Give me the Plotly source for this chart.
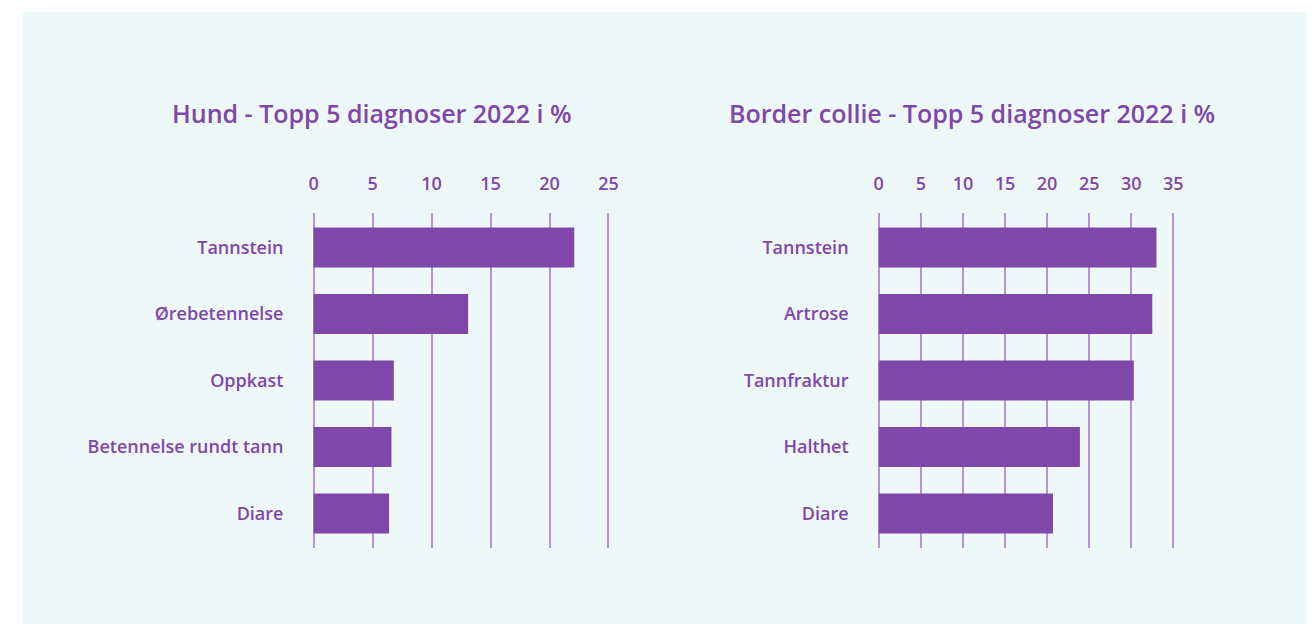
import plotly.graph_objects as go

# data
hund_diag = ["Tannstein", "Ørebetennelse", "Oppkast", "Betennelse rundt tann", "Diare"]
hund_pct = [22.1, 13.1, 6.8, 6.6, 6.4]

bc_diag = ["Tannstein", "Artrose", "Tannfraktur", "Halthet", "Diare"]
bc_pct = [33.0, 32.5, 30.3, 23.9, 20.7]

hund_ticks = [0, 5, 10, 15, 20, 25]
bc_ticks = [0, 5, 10, 15, 20, 25, 30, 35]

W, H = 1316, 624
purple = "#8047ab"
grid = "#b892d9"
bg = "#eff8f9"
font = "Open Sans"

fig = go.Figure()
fig.add_trace(go.Bar(x=hund_pct, y=hund_diag, orientation="h", marker_color=purple,
                     marker_line_width=0, width=0.6, xaxis="x", yaxis="y"))
fig.add_trace(go.Bar(x=bc_pct, y=bc_diag, orientation="h", marker_color=purple,
                     marker_line_width=0, width=0.6, xaxis="x2", yaxis="y2"))

y_top = 1 - 213 / H
y_bot = 1 - 548 / H

# range padded a little so the end gridlines (0 and max) get drawn
def xax(dom, ticks, pad):
    return dict(domain=dom, side="top", range=[-pad, ticks[-1] + pad], tickvals=ticks,
                showgrid=True, gridcolor=grid, gridwidth=1.5, zeroline=False,
                showline=False, ticks="", ticklabelstandoff=18,
                tickfont=dict(family=font, size=18, color=purple, weight=600),
                fixedrange=True)

def yax(anchor):
    return dict(domain=[y_bot, y_top], anchor=anchor, autorange=False,
                range=[4.52, -0.52], showgrid=False, zeroline=False, ticks="",
                ticklabelstandoff=28,
                tickfont=dict(family=font, size=18, color=purple, weight=600),
                fixedrange=True)

fig.update_layout(
    height=H,
    margin=dict(l=0, r=0, t=0, b=0),
    paper_bgcolor="white",
    plot_bgcolor="rgba(0,0,0,0)",
    showlegend=False,
    xaxis=dict(xax([311.5 / W, 611.7 / W], hund_ticks, 0.1), anchor="y"),
    yaxis=yax("x"),
    xaxis2=dict(xax([882.3 / W, 1182.2 / W], bc_ticks, 0.14), anchor="y2"),
    yaxis2=yax("x2"),
    shapes=[dict(type="rect", xref="paper", yref="paper", x0=19 / W, x1=1, y0=0,
                 y1=1 - 12 / H, fillcolor=bg, line_width=0, layer="below")],
    annotations=[
        dict(text="Hund - Topp 5 diagnoser 2022 i %", x=372 / W, y=1 - 113 / H,
             xref="paper", yref="paper", showarrow=False, xanchor="center", yanchor="middle",
             font=dict(family=font, size=25, color=purple, weight=600)),
        dict(text="Border collie - Topp 5 diagnoser 2022 i %", x=978 / W, y=1 - 113 / H,
             xref="paper", yref="paper", showarrow=False, xanchor="center", yanchor="middle",
             font=dict(family=font, size=25, color=purple, weight=600)),
    ],
)

fig.write_html("out.html", config={"displayModeBar": False, "responsive": True},
               default_width="100%", default_height="%dpx" % H,
               post_script="document.body.style.margin='0';document.body.style.overflow='hidden';"
                           "window.dispatchEvent(new Event('resize'));")
